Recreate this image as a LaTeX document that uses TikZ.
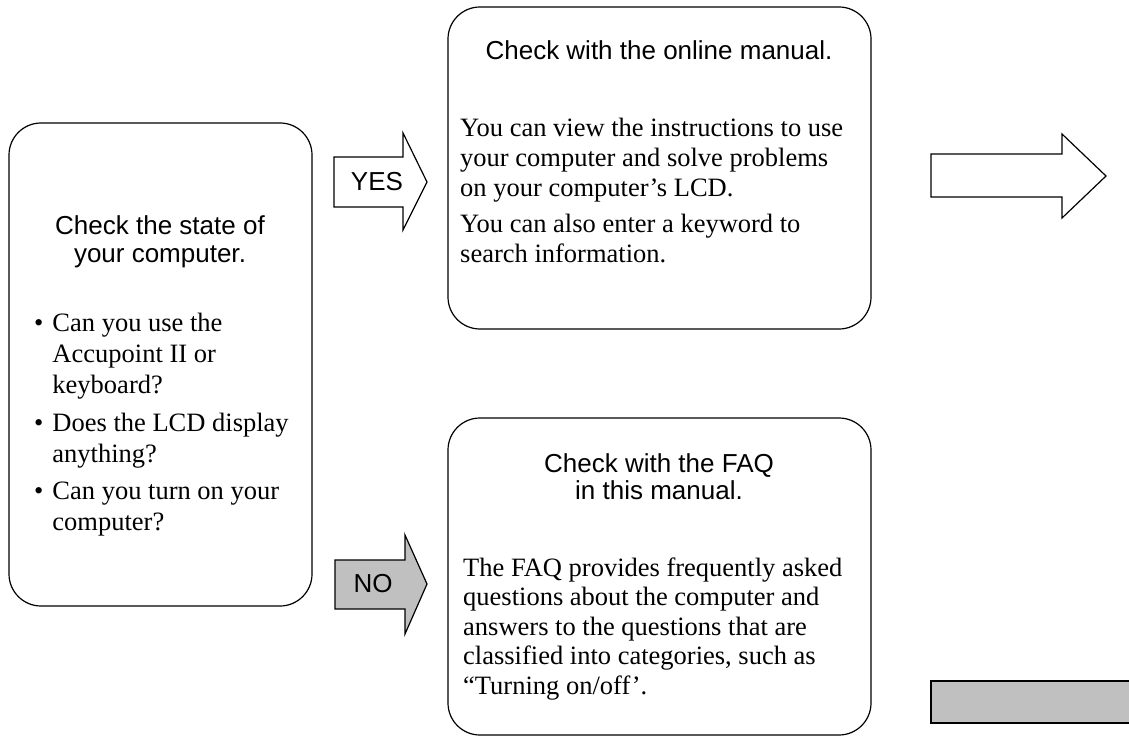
\documentclass[tikz,border=0pt]{standalone}
\usepackage{fontspec}
\setmainfont{Liberation Serif}
\setsansfont{Liberation Sans}
\definecolor{arrowgray}{HTML}{C0C0C0}
\tikzset{
  roundbox/.style={draw, line width=1.2pt, rounded corners=32pt},
  blockarrow/.style={draw, line width=1.2pt, line join=miter},
  headtext/.style={font=\sffamily\fontsize{26}{27.5}\selectfont, align=center, inner sep=0pt},
  bodytext/.style={font=\fontsize{26.5}{30}\selectfont, align=left, anchor=north west, inner sep=0pt},
}
\begin{document}
\begin{tikzpicture}[x=1pt, y=-1pt, line join=round, line cap=round]
\useasboundingbox (0,0) rectangle (1129,738);
\path (9,123) coordinate (L1) (312,606) coordinate (L2)
(448,7) coordinate (T1) (871,329) coordinate (T2)
(448,418) coordinate (B1) (871,735) coordinate (B2);
% the three boxes
\draw[roundbox] (L1) rectangle (L2);
\draw[roundbox] (T1) rectangle (T2);
\draw[roundbox] (B1) rectangle (B2);
% block arrows
\draw[blockarrow] (334,157)--(403,157)--(403,133)--(427,182)--(403,230)--(403,207)--(334,207)--cycle;
\draw[blockarrow, fill=arrowgray] (335,560)--(405,560)--(405,535)--(427,584)--(405,634)--(405,609)--(335,609)--cycle;
\draw[blockarrow] (931,154)--(1062,154)--(1062,134)--(1106,176)--(1062,218)--(1062,197)--(931,197)--cycle;
\draw[blockarrow, fill=arrowgray] (931,681) rectangle (1140,723);
\node[headtext] (yes) at (377,182) {YES};
\node[headtext] (no) at (373,584) {NO};
% texts
\node[headtext] (statehead) at (160,242) {Check the state of\\your computer.};
\node[bodytext, anchor=base west, font=\fontsize{26.5}{31}\selectfont] (statelist) at (34,331) {%
\begin{tabular}[t]{@{}l@{\hspace{9pt}}l@{}}
\textbullet & Can you use the\\
 & Accupoint II or\\
 & keyboard?\\[7pt]
\textbullet & Does the LCD display\\
 & anything?\\[6pt]
\textbullet & Can you turn on your\\
 & computer?
\end{tabular}};
\node[headtext] (manualhead) at (659,50) {Check with the online manual.};
\node[bodytext] (manualtext) at (460,117.5) {You can view the instructions to use\\
your computer and solve problems\\
on your computer’s LCD.\\[6pt]
You can also enter a keyword to\\
search information.};
\node[headtext] (faqhead) at (659,476.5) {Check with the FAQ\\in this manual.};
\node[bodytext, font=\fontsize{26.5}{29.5}\selectfont] (faqtext) at (463,557.5) {The FAQ provides frequently asked\\
questions about the computer and\\
answers to the questions that are\\
classified into categories, such as\\
“Turning on/off’.};
\end{tikzpicture}
\end{document}
